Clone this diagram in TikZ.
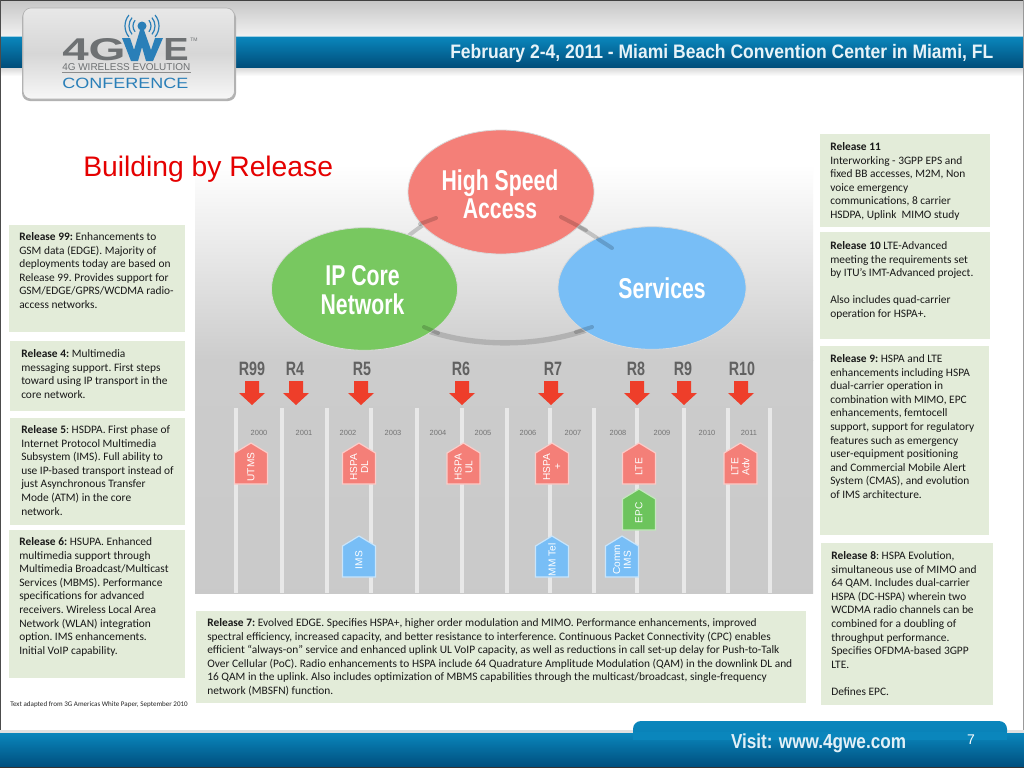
\documentclass[tikz,border=0pt]{standalone}
\usepackage{fontspec}
\usepackage{graphicx}
\setmainfont{Carlito}
\newfontfamily\arialf{Liberation Sans}
\newfontfamily\condf[FakeStretch=0.74]{Liberation Sans}
\usetikzlibrary{shapes.geometric}
\definecolor{boxgreen}{HTML}{E3ECD9}
\definecolor{redc}{HTML}{F47F78}
\definecolor{greenc}{HTML}{78C860}
\definecolor{bluec}{HTML}{78BEF6}
\definecolor{pentgreen}{HTML}{6CC45C}
\definecolor{arrowred}{HTML}{EE3E2A}
\definecolor{bandtop}{HTML}{0A86BC}
\definecolor{bandbot}{HTML}{00507F}
\definecolor{logogray}{HTML}{6E7173}
\definecolor{logoblue}{HTML}{2A7FB8}
\tikzset{
 bodytext/.style={anchor=north west,inner sep=0pt,yshift=-1.6pt,align=left,font=\frenchspacing\fontsize{8.55}{10.2}\selectfont,text=black!90},
 circshape/.style={ellipse,inner sep=0pt,draw=white!70!gray,line width=0.6pt},
 circlab/.style={inner sep=0pt,text=white,align=center,font=\condf\bfseries\fontsize{21.5}{21.3}\selectfont},
 rlab/.style={inner sep=0pt,text=black!62,font=\condf\bfseries\fontsize{14.5}{15}\selectfont},
 yearlab/.style={inner sep=0pt,text=black!55,font=\arialf\fontsize{5.6}{6}\selectfont},
 pentlab/.style={rotate=90,inner sep=0pt,text=white,align=center,font=\arialf\fontsize{7.6}{8.2}\selectfont},
 pentshape/.style={draw=white!60!#1,line width=0.9pt,fill=#1},
 timeline/.style={draw=black!9,line width=3.4pt},
 ringtop/.style={draw=black!24,line width=3pt},
 ringbot/.style={draw=black!30,line width=4pt},
 stub/.style={line width=3pt,line cap=round,draw=black,opacity=.17}
}
\newcommand{\relbox}[4]{\fill[boxgreen] (#1,#2) rectangle (#3,#4);}
\newcommand{\pent}[5]{\begin{scope}[shift={(#2,#3)}]
 \draw[pentshape=#4] (-16.5,10) -- (0,0) -- (16.5,10) -- (16.5,41) -- (-16.5,41) -- cycle;
 \node[pentlab] (#1) at (0,24) {#5};
\end{scope}}
\newcommand{\rel}[4]{\node[rlab] (lab#1) at (#3,369) {#4};
 \begin{scope}[shift={(#2,381)}]
 \fill[arrowred] (-7,0) -- (7,0) -- (7,12) -- (13,12) -- (0,24) -- (-13,12) -- (-7,12) -- cycle;
 \end{scope}}
\begin{document}
\begin{tikzpicture}[x=0.75pt,y=-0.75pt]
\useasboundingbox (0,0) rectangle (1024,768);
\fill[white] (0,0) rectangle (1024,768);
% header
\shade[top color=black!22,bottom color=black!5] (0,1) rectangle (1024,37);
\shade[top color=bandtop,bottom color=bandbot!95!black] (0,37) rectangle (1024,68);
\fill[bandtop!40!white] (0,36) rectangle (1024,37.2);
\fill[bandtop!50!white] (0,67.5) rectangle (1024,68.5);
\shade[top color=black!14,bottom color=white] (0,68.5) rectangle (1024,76);
\fill[black!75] (0,0) rectangle (1024,1.2);
\fill[black!70] (0,0) rectangle (1.2,768);
\fill[black!40] (1023,0) rectangle (1024,768);
\node[anchor=west,inner sep=0pt,text=white!90!bandtop,font=\arialf\bfseries] (hdr) at (450,53) {\resizebox{407.25pt}{10.6pt}{February 2-4, 2011 - Miami Beach Convention Center in Miami, FL}};
% logo
\fill[black!30,rounded corners=6pt] (22,10) rectangle (236,101);
\shade[top color=black!9,bottom color=black!3,middle color=black!16,draw=black!30,line width=0.5pt,rounded corners=6pt] (23,8) rectangle (234.5,99);
\fill[logoblue] (142,26) circle (4.5);
\foreach \r in {9,13,17}{\draw[logoblue,line width=.9pt] (142,26) ++(220:\r) arc[start angle=220,end angle=140,radius=\r];
 \draw[logoblue,line width=.9pt] (142,26) ++(-40:\r) arc[start angle=-40,end angle=40,radius=\r];}
\node[anchor=north west,inner sep=0pt,text=logogray,font=\arialf\bfseries] (lg) at (62,38) {\resizebox{47.5pt}{16.5pt}{4G}};
\node[anchor=north west,inner sep=0pt,text=logogray,font=\arialf\bfseries] (le) at (163,38) {\resizebox{19pt}{16.5pt}{E}};
\fill[logoblue] (122,38) -- (130,38) -- (134,50) -- (140,30) -- (144,30) -- (151,50) -- (155,38) -- (163,38) -- (153,61) -- (146,61) -- (142,47) -- (138,61) -- (131,61) -- cycle;
\node[anchor=west,inner sep=0pt,text=logogray,font=\arialf\fontsize{3.8}{4}\selectfont] (ltm) at (190,40) {TM};
\node[anchor=west,inner sep=0pt,text=logogray,font=\arialf] (lsub) at (62,67.5) {\resizebox{96pt}{!}{4G WIRELESS EVOLUTION}};
\draw[black!45,line width=0.4pt] (62,72.5) -- (191,72.5);
\node[anchor=west,inner sep=0pt,text=logoblue,font=\arialf] (lconf) at (62,83.5) {\resizebox{94.5pt}{7.8pt}{CONFERENCE}};
% footer
\fill[black!12] (0,730) rectangle (1024,733);
\shade[top color=bandtop,bottom color=bandbot] (0,733) rectangle (1024,766);
\shade[top color=bandtop,bottom color=bandtop!90!bandbot,rounded corners=6pt] (633,740) -- (633,721) -- (1007,721) -- (1007,740) -- cycle;
\fill[bandtop] (633,732) rectangle (1007,740);
\fill[black!80] (0,766.5) rectangle (1024,768);
\node[anchor=center,inner sep=0pt,text=white!88!bandtop,font=\arialf\bfseries] (visit) at (818.5,743) {\resizebox{131.25pt}{11pt}{Visit: www.4gwe.com}};
\node[anchor=center,inner sep=0pt,text=white,font=\arialf\fontsize{10.5}{12}\selectfont] (pageno) at (971,740) {7};
% diagram panel
\shade[top color=white,bottom color=black!20] (195,165) rectangle (813,360);
\shade[top color=black!20,bottom color=black!21] (195,360) rectangle (813,593);
% ring
\coordinate (chsa) at (501,192);
\coordinate (cipc) at (364.5,289);
\coordinate (csvc) at (652,288);
\draw[ringtop] (cipc) .. controls (385,245) and (440,205) .. (chsa);
\draw[ringtop] (chsa) .. controls (560,212) and (620,245) .. (csvc);
\draw[ringbot] (cipc) .. controls (420,361) and (590,361) .. (csvc);
% timeline
\foreach \x in {236,282,327,371,417,462,507,550,594,637,684,728,770}{\draw[timeline] (\x,408) -- (\x,593);}
\foreach \x/\y in {259/2000,304/2001,348/2002,393/2003,438/2004,483/2005,528/2006,573/2007,618/2008,662/2009,707/2010,749/2011}{\node[yearlab] (y\y) at (\x,433) {\y};}
% circles
\node[circshape,fill=redc,minimum width=139.5pt,minimum height=93pt] (hsa) at (chsa) {};
\node[circshape,fill=greenc,minimum width=139.5pt,minimum height=92pt] (ipc) at (cipc) {};
\node[circshape,fill=bluec,minimum width=141pt,minimum height=92pt] (svc) at (csvc) {};
\node[circlab] (hsalab) at (500,194.5) {High Speed\\Access};
\node[circlab] (ipclab) at (362.5,290) {IP Core\\Network};
\node[circlab] (svclab) at (662,288) {Services};
\draw[stub] (420,224) -- (436,218);
\draw[stub] (561,217) -- (586,230);
\draw[stub] (598,239) -- (612,248);
\draw[stub] (576,332) -- (592,327);
\draw[stub] (424,327) -- (438,333);
% releases
\rel{a}{252}{252}{R99}
\rel{b}{296}{295}{R4}
\rel{c}{361}{362}{R5}
\rel{d}{462}{461}{R6}
\rel{e}{551}{553}{R7}
\rel{f}{637}{636}{R8}
\rel{g}{684}{683}{R9}
\rel{h}{741}{742}{R10}
% pentagons
\pent{utms}{251}{443}{redc}{UTMS}
\pent{hspadl}{359}{443}{redc}{HSPA\\DL}
\pent{hspaul}{463.5}{443}{redc}{HSPA\\UL}
\pent{hspap}{552}{443}{redc}{HSPA\\+}
\pent{lte}{639}{443}{redc}{LTE}
\pent{lteadv}{740.5}{443}{redc}{LTE\\Adv}
\pent{epc}{639}{489}{pentgreen}{EPC}
\pent{ims}{359}{536}{bluec}{IMS}
\pent{mmtel}{552}{536}{bluec}{MM Tel}
\pent{commims}{622}{536}{bluec}{Comm\\IMS}
% title
\node[anchor=west,inner sep=0pt,text=red!90!black,font=\arialf\fontsize{21.2}{24}\selectfont] (title) at (83,169.5) {Building by Release};
% text boxes
\relbox{820}{134}{990}{227}
\node[bodytext] (r11) at (830,140) {\textbf{Release 11}\\Interworking - 3GPP EPS and\\fixed BB accesses, M2M, Non\\voice emergency\\communications, 8 carrier\\HSDPA, Uplink\ \ MIMO study};
\relbox{820}{232}{990}{339}
\node[bodytext] (r10) at (830,239) {\textbf{Release 10} LTE-Advanced\\meeting the requirements set\\by ITU’s IMT-Advanced project.\\[10.2pt]Also includes quad-carrier\\operation for HSPA+.};
\relbox{820}{346}{989}{535}
\node[bodytext] (r9) at (830,352) {\textbf{Release 9:} HSPA and LTE\\enhancements including HSPA\\dual-carrier operation in\\combination with MIMO, EPC\\enhancements, femtocell\\support, support for regulatory\\features such as emergency\\user-equipment positioning\\and Commercial Mobile Alert\\System (CMAS), and evolution\\of IMS architecture.};
\relbox{821}{543}{993}{705}
\node[bodytext] (r8) at (831,549) {\textbf{Release 8}: HSPA Evolution,\\simultaneous use of MIMO and\\64 QAM. Includes dual-carrier\\HSPA (DC-HSPA) wherein two\\WCDMA radio channels can be\\combined for a doubling of\\throughput performance.\\Specifies OFDMA-based 3GPP\\LTE.\\[10.2pt]Defines EPC.};
\relbox{9}{225}{185}{332}
\node[bodytext] (r99) at (19,230) {\textbf{Release 99:} Enhancements to\\GSM data (EDGE). Majority of\\deployments today are based on\\Release 99. Provides support for\\GSM/EDGE/GPRS/WCDMA radio-\\access networks.};
\relbox{10}{341}{185}{411}
\node[bodytext] (r4) at (21,347) {\textbf{Release 4:} Multimedia\\messaging support. First steps\\toward using IP transport in the\\core network.};
\relbox{10}{418}{185}{525}
\node[bodytext] (r5) at (21,423) {\textbf{Release 5}: HSDPA. First phase of\\Internet Protocol Multimedia\\Subsystem (IMS). Full ability to\\use IP-based transport instead of\\just Asynchronous Transfer\\Mode (ATM) in the core\\network.};
\relbox{9}{530}{185}{678}
\node[bodytext] (r6) at (19,535) {\textbf{Release 6:} HSUPA. Enhanced\\multimedia support through\\Multimedia Broadcast/Multicast\\Services (MBMS). Performance\\specifications for advanced\\receivers. Wireless Local Area\\Network (WLAN) integration\\option. IMS enhancements.\\Initial VoIP capability.};
\relbox{196}{611}{806}{703}
\node[bodytext] (r7) at (207,616) {\textbf{Release 7:} Evolved EDGE. Specifies HSPA+, higher order modulation and MIMO. Performance enhancements, improved\\spectral efficiency, increased capacity, and better resistance to interference. Continuous Packet Connectivity (CPC) enables\\efficient “always-on” service and enhanced uplink UL VoIP capacity, as well as reductions in call set-up delay for Push-to-Talk\\Over Cellular (PoC). Radio enhancements to HSPA include 64 Quadrature Amplitude Modulation (QAM) in the downlink DL and\\16 QAM in the uplink. Also includes optimization of MBMS capabilities through the multicast/broadcast, single-frequency\\network (MBSFN) function.};
\node[anchor=west,inner sep=0pt,text=black!85,font=\fontsize{5.3}{6}\selectfont] (src) at (10,704.5) {Text adapted from 3G Americas White Paper, September 2010};
\end{tikzpicture}
\end{document}
